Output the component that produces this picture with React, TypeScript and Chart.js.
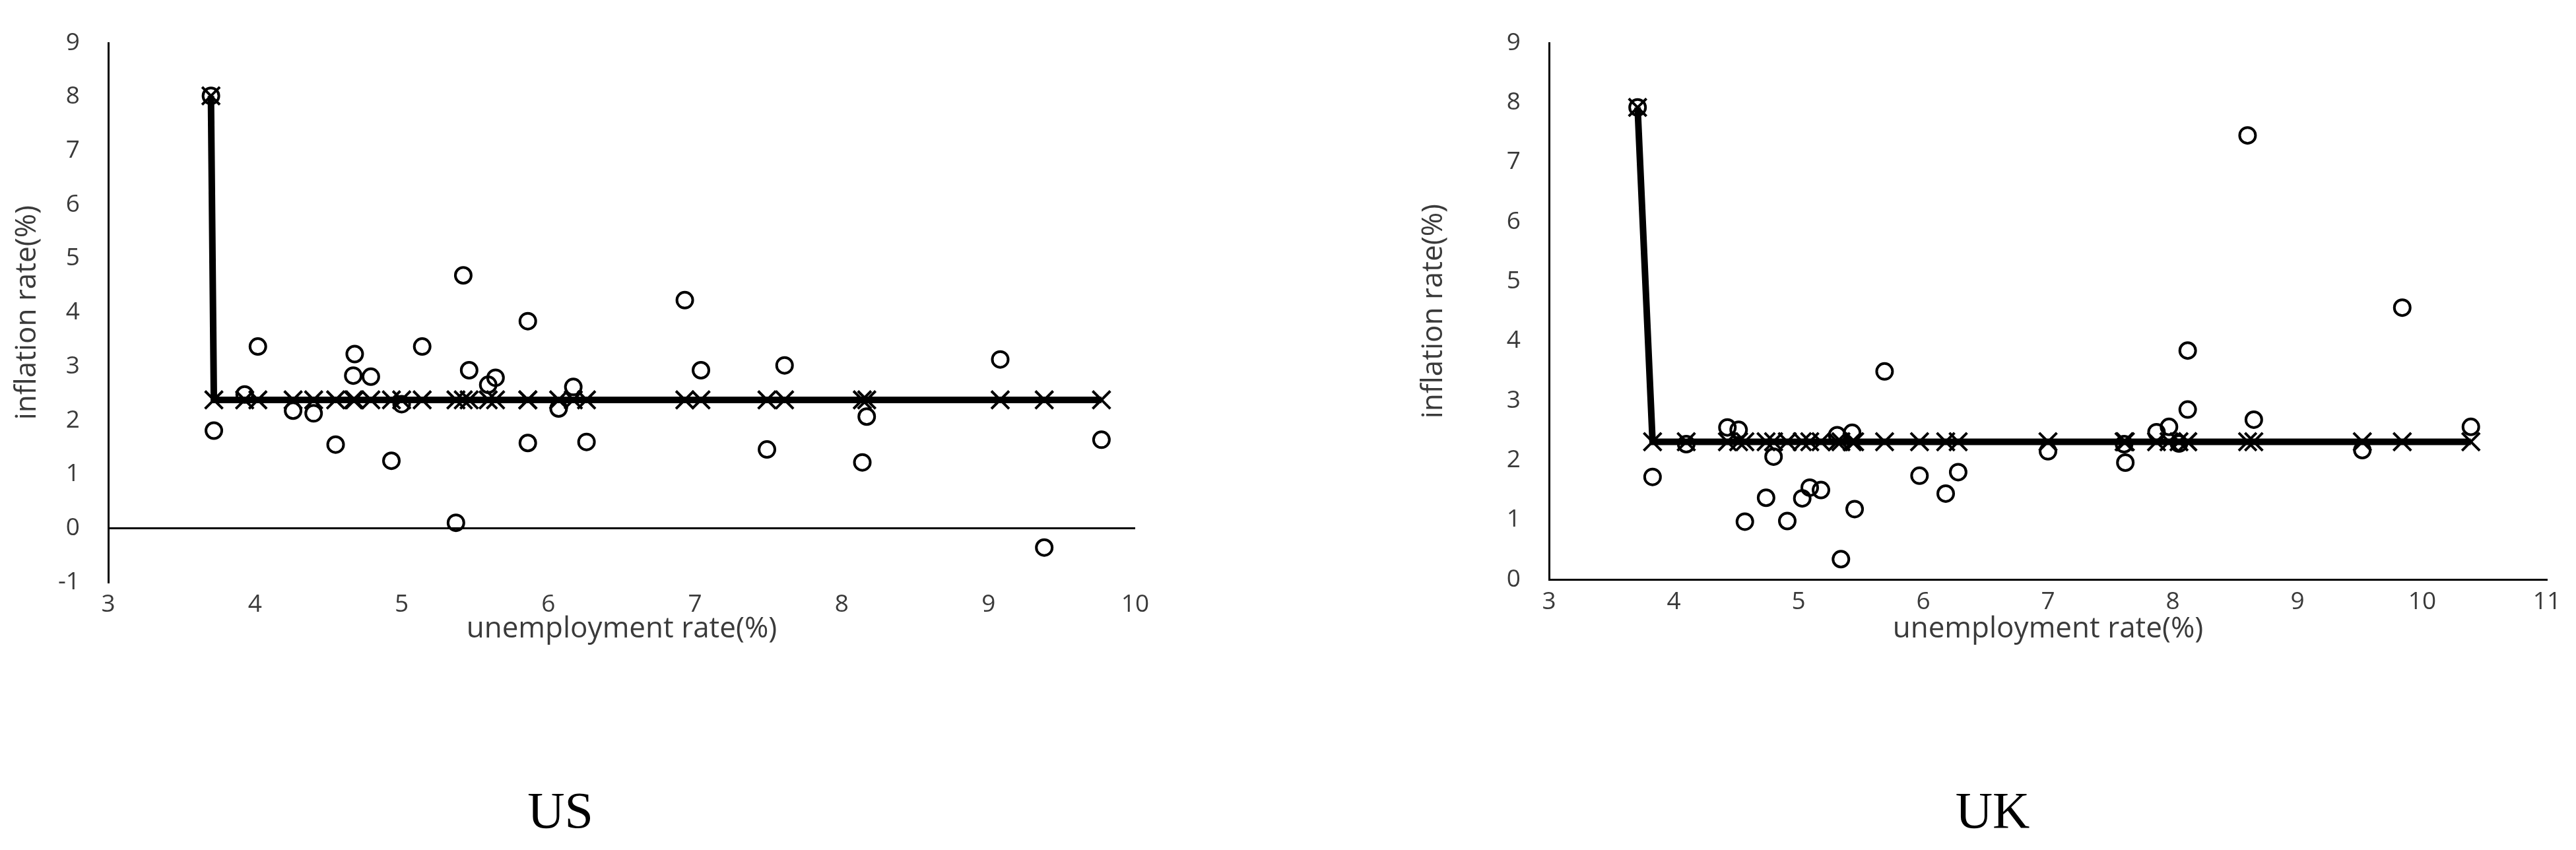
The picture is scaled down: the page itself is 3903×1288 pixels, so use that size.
import React, { useEffect, useRef } from "react";
import { Chart, registerables } from "chart.js";

Chart.register(...registerables);

// ---------------- US data ----------------
const usUnemployment = [
  3.70, 3.72, 3.93, 4.02, 4.26, 4.40, 4.55, 4.67, 4.68, 4.79, 4.93, 5.00, 5.14, 5.37, 5.42, 5.46,
  5.59, 5.64, 5.86, 5.86, 6.07, 6.17, 6.26, 6.93, 7.04, 7.49, 7.61, 8.14, 8.17, 9.08, 9.38, 9.77,
];
const usInflation = [
  8.02, 1.81, 2.48, 3.37, 2.18, 2.13, 1.55, 2.83, 3.23, 2.81, 1.25, 2.30, 3.37, 0.10, 4.69, 2.93,
  2.66, 2.79, 3.84, 1.58, 2.22, 2.62, 1.60, 4.23, 2.93, 1.46, 3.02, 1.22, 2.07, 3.13, -0.36, 1.64,
];
const usFitted = [
  8.02, 2.38, 2.38, 2.38, 2.38, 2.38, 2.38, 2.38, 2.38, 2.38, 2.38, 2.38, 2.38, 2.38, 2.38, 2.38,
  2.38, 2.38, 2.38, 2.38, 2.38, 2.38, 2.38, 2.38, 2.38, 2.38, 2.38, 2.38, 2.38, 2.38, 2.38, 2.38,
];
const usXRange = [3, 10];
const usYRange = [-1, 9];

// ---------------- UK data ----------------
const ukUnemployment = [
  3.71, 3.83, 4.10, 4.43, 4.52, 4.57, 4.74, 4.80, 4.91, 5.03, 5.09, 5.18, 5.31, 5.34, 5.43, 5.45,
  5.69, 5.97, 6.18, 6.28, 7.00, 7.61, 7.62, 7.87, 7.97, 8.05, 8.12, 8.12, 8.60, 8.65, 9.52, 9.84, 10.39,
];
const ukInflation = [
  7.92, 1.72, 2.27, 2.55, 2.51, 0.97, 1.37, 2.06, 0.98, 1.36, 1.54, 1.50, 2.42, 0.34, 2.46, 1.18,
  3.49, 1.74, 1.44, 1.80, 2.15, 2.27, 1.96, 2.47, 2.56, 2.28, 3.84, 2.85, 7.45, 2.68, 2.17, 4.56, 2.56,
];
const ukFitted = [
  7.92, 2.31, 2.31, 2.31, 2.31, 2.31, 2.31, 2.31, 2.31, 2.31, 2.31, 2.31, 2.31, 2.31, 2.31, 2.31,
  2.31, 2.31, 2.31, 2.31, 2.31, 2.31, 2.31, 2.31, 2.31, 2.31, 2.31, 2.31, 2.31, 2.31, 2.31, 2.31, 2.31,
];
const ukXRange = [3, 11];
const ukYRange = [0, 9];

const xTitle = "unemployment rate(%)";
const yTitle = "inflation rate(%)";

const TICK_FONT = { family: "'Open Sans', sans-serif", size: 37 };
const TITLE_FONT = { family: "'Open Sans', sans-serif", size: 44 };
const TEXT_COLOR = "#3a3a3a";

type Layout = {
  padLeft: number;
  padTop: number;
  padRight: number;
  yWidth: number;
  xHeight: number;
  zeroLine: boolean;
  bottomBorder: boolean;
};

function buildConfig(
  xs: number[],
  ys: number[],
  fit: number[],
  xr: number[],
  yr: number[],
  lay: Layout
): any {
  return {
    type: "scatter",
    data: {
      datasets: [
        {
          label: "observed",
          data: xs.map((x, i) => ({ x, y: ys[i] })),
          showLine: false,
          pointStyle: "circle",
          pointRadius: 12,
          pointBorderWidth: 4,
          pointBorderColor: "#000",
          pointBackgroundColor: "rgba(0,0,0,0)",
          order: 1,
        },
        {
          label: "fitted",
          data: xs.map((x, i) => ({ x, y: fit[i] })),
          showLine: true,
          borderColor: "#000",
          borderWidth: 10,
          tension: 0,
          fill: false,
          pointStyle: "crossRot",
          pointRadius: 19,
          pointBorderWidth: 4,
          pointBorderColor: "#000",
          pointBackgroundColor: "rgba(0,0,0,0)",
          order: 2,
        },
      ],
    },
    options: {
      animation: false,
      responsive: false,
      devicePixelRatio: 1,
      events: [],
      layout: { padding: { left: lay.padLeft, top: lay.padTop, right: lay.padRight, bottom: 0 } },
      plugins: { legend: { display: false }, tooltip: { enabled: false } },
      scales: {
        x: {
          type: "linear",
          min: xr[0],
          max: xr[1],
          ticks: { stepSize: 1, padding: 12, font: TICK_FONT, color: TEXT_COLOR, maxRotation: 0 },
          grid: { display: false, drawTicks: false },
          border: { display: lay.bottomBorder, color: "#000", width: 3 },
          title: {
            display: true,
            text: xTitle,
            font: TITLE_FONT,
            color: TEXT_COLOR,
            padding: { top: 0, bottom: 20 },
          },
          afterFit: (s: any) => {
            s.height = lay.xHeight;
          },
        },
        y: {
          type: "linear",
          min: yr[0],
          max: yr[1],
          ticks: { stepSize: 1, padding: 43, font: TICK_FONT, color: TEXT_COLOR },
          grid: {
            display: lay.zeroLine,
            drawTicks: false,
            lineWidth: 3,
            color: (ctx: any) => (ctx.tick && ctx.tick.value === 0 ? "#000" : "rgba(0,0,0,0)"),
          },
          border: { display: true, color: "#000", width: 3 },
          title: {
            display: true,
            text: yTitle,
            font: TITLE_FONT,
            color: TEXT_COLOR,
            padding: { top: 15, bottom: 0 },
          },
          afterFit: (s: any) => {
            s.width = lay.yWidth;
          },
        },
      },
    },
  };
}

function ChartCanvas(props: { config: any; left: number; width: number; height: number }) {
  const ref = useRef<HTMLCanvasElement | null>(null);
  useEffect(() => {
    if (!ref.current) return;
    const chart = new Chart(ref.current, props.config);
    return () => chart.destroy();
  }, []);
  return (
    <canvas
      ref={ref}
      width={props.width}
      height={props.height}
      style={{
        position: "absolute",
        left: props.left,
        top: 0,
        width: props.width,
        height: props.height,
        display: "block",
      }}
    />
  );
}

const usConfig = buildConfig(usUnemployment, usInflation, usFitted, usXRange, usYRange, {
  padLeft: 0,
  padTop: 34,
  padRight: 180,
  yWidth: 164,
  xHeight: 118,
  zeroLine: true,
  bottomBorder: false,
});

const ukConfig = buildConfig(ukUnemployment, ukInflation, ukFitted, ukXRange, ukYRange, {
  padLeft: 180,
  padTop: 35,
  padRight: 44,
  yWidth: 216,
  xHeight: 122,
  zeroLine: false,
  bottomBorder: true,
});

const captionStyle: React.CSSProperties = {
  position: "absolute",
  top: 1189,
  width: 400,
  textAlign: "center",
  fontFamily: "'Liberation Serif', 'Times New Roman', serif",
  fontSize: 78,
  lineHeight: "78px",
  color: "#000",
};

export default function App() {
  return (
    <div
      style={{
        position: "absolute",
        left: 0,
        top: 0,
        width: 3903,
        height: 1288,
        background: "#fff",
        overflow: "hidden",
      }}
    >
      <ChartCanvas config={usConfig} left={0} width={1900} height={1000} />
      <ChartCanvas config={ukConfig} left={1951} width={1952} height={1000} />
      <div style={{ ...captionStyle, left: 849 - 200 }}>US</div>
      <div style={{ ...captionStyle, left: 3019 - 200 }}>UK</div>
    </div>
  );
}
